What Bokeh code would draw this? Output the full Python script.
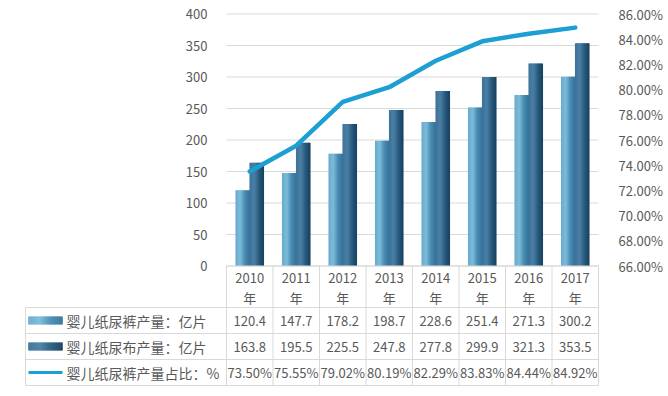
from bokeh.plotting import figure
from bokeh.models import (ColumnDataSource, Range1d, LinearAxis, FixedTicker,
                          PrintfTickFormatter)
from bokeh.transform import dodge
from bokeh.core.properties import value
from bokeh.embed import file_html
from bokeh.resources import INLINE

# ---------------- data ----------------
years = ["2010", "2011", "2012", "2013", "2014", "2015", "2016", "2017"]
diaper_output = [120.4, 147.7, 178.2, 198.7, 228.6, 251.4, 271.3, 300.2]
cloth_output = [163.8, 195.5, 225.5, 247.8, 277.8, 299.9, 321.3, 353.5]
diaper_share = [73.50, 75.55, 79.02, 80.19, 82.29, 83.83, 84.44, 84.92]
left_ticks = [0, 50, 100, 150, 200, 250, 300, 350, 400]
right_ticks = [66, 68, 70, 72, 74, 76, 78, 80, 82, 84, 86]
series_names = ["婴儿纸尿裤产量：亿片", "婴儿纸尿布产量：亿片", "婴儿纸尿裤产量占比：%"]

FONT = value("Noto Sans CJK SC")
TXT = "#595959"
GRID = "#d9d9d9"
LINE_C = "#1c9fd3"
n = len(years)
xs = [i + 0.5 for i in range(n)]

src = ColumnDataSource(dict(
    x=xs, years=years, diaper=diaper_output, cloth=cloth_output, share=diaper_share,
    diaper_txt=[f"{v:.1f}" for v in diaper_output],
    cloth_txt=[f"{v:.1f}" for v in cloth_output],
    share_txt=[f"{v:.2f}%" for v in diaper_share],
    nian=["年"] * n,
))

# ---------------- geometry (page pixels; figure sits at page 0,0) ----------------
W, H = 668, 396
BAND = 46.5          # px per category
PXU = 0.63           # px per value unit (left axis)
X0_PAGE = 226        # page x of category 0 edge
Y0_PAGE = 265.5      # page y of value 0
FL, FR, FT, FB = 24, 600, 4, 388   # frame edges on page


def px(v):
    return (v - X0_PAGE) / BAND


def py(v):
    return (Y0_PAGE - v) / PXU


x_start, x_end = px(FL), px(FR)
y_start, y_end = py(FB), py(FT)

p = figure(width=W, height=H, output_backend="svg", toolbar_location=None,
           x_range=Range1d(x_start, x_end), y_range=Range1d(y_start, y_end),
           x_axis_location=None, y_axis_location="left",
           min_border_left=FL, min_border_right=W - FR,
           min_border_top=FT, min_border_bottom=H - FB,
           outline_line_color=None)
p.extra_y_ranges = {"pct": Range1d(66 + y_start * 0.05, 66 + y_end * 0.05)}
p.grid.visible = False

ya = p.yaxis[0]
ya.fixed_location = 0
ya.ticker = FixedTicker(ticks=left_ticks)
ya.axis_line_color = None
ya.major_tick_line_color = None
ya.minor_tick_line_color = None
ya.major_label_standoff = 13
ya.major_label_text_font = "Noto Sans CJK SC"
ya.major_label_text_font_size = "13px"
ya.major_label_text_color = TXT

ra = LinearAxis(y_range_name="pct", ticker=FixedTicker(ticks=right_ticks),
                formatter=PrintfTickFormatter(format="%.2f%%"))
ra.axis_line_color = None
ra.major_tick_line_color = None
ra.minor_tick_line_color = None
ra.major_label_standoff = 12
ra.major_label_text_font = "Noto Sans CJK SC"
ra.major_label_text_font_size = "13px"
ra.major_label_text_color = TXT
p.add_layout(ra, "right")

# horizontal gridlines over the plot area only
p.segment(x0=[0] * len(left_ticks), y0=left_ticks, x1=[n] * len(left_ticks),
          y1=left_ticks, line_color=GRID, line_width=1)


def lerp(c1, c2, t):
    a = [int(c1[i:i + 2], 16) for i in (1, 3, 5)]
    b = [int(c2[i:i + 2], 16) for i in (1, 3, 5)]
    return "#%02x%02x%02x" % tuple(round(a[k] + (b[k] - a[k]) * t) for k in range(3))


def grad(stops, t):
    # piecewise-linear gradient through several colour stops
    k = min(int(t * (len(stops) - 1)), len(stops) - 2)
    tt = t * (len(stops) - 1) - k
    return lerp(stops[k], stops[k + 1], tt)


BAR_PX = 14
BW = BAR_PX / BAND
STRIP = 1.6 / BAND
light = ("#6aaccf", "#7dbcd9", "#4a8db4", "#37769c")
dark = ("#3f7399", "#4b80a6", "#2a5d80", "#1a4463")
for j in range(BAR_PX):
    t = j / (BAR_PX - 1)
    off = (j + 0.5) / BAND
    p.vbar(x=dodge("x", -BW + off, range=p.x_range), top="diaper",
           bottom=0, width=STRIP, source=src,
           fill_color=grad(light, t), line_color=None)
    p.vbar(x=dodge("x", off, range=p.x_range), top="cloth",
           bottom=0, width=STRIP, source=src,
           fill_color=grad(dark, t), line_color=None)

p.line(x="x", y="share", y_range_name="pct", source=src, line_color=LINE_C,
       line_width=4.5, line_join="round", line_cap="round")

# ---------------- data table ----------------
row_lines = [py(v) for v in (307, 333, 359, 385)]
table_top = 0
p.segment(x0=[0], y0=[table_top], x1=[n], y1=[table_top], line_color=GRID)
p.segment(x0=[px(25)] * 4, y0=row_lines, x1=[n] * 4, y1=row_lines, line_color=GRID)
vx = list(range(n + 1))
p.segment(x0=vx, y0=[table_top] * len(vx), x1=vx, y1=[row_lines[-1]] * len(vx),
          line_color=GRID)
p.segment(x0=[px(25)], y0=[row_lines[0]], x1=[px(25)], y1=[row_lines[-1]],
          line_color=GRID)

p.text(x="x", y=py(277), text="years", source=src, text_align="center",
       text_baseline="middle", text_font=FONT, text_font_size="13px", text_color=TXT)
p.text(x="x", y=py(297), text="nian", source=src, text_align="center",
       text_baseline="middle", text_font=FONT, text_font_size="13px", text_color=TXT)

row_y = [py(320), py(346), py(372)]
for col, yy in zip(("diaper_txt", "cloth_txt", "share_txt"), row_y):
    p.text(x="x", y=yy, text=col, source=src, text_align="center",
           text_baseline="middle", text_font=FONT, text_font_size="13px",
           text_color=TXT)

p.text(x=[px(66)] * 3, y=row_y, text=series_names, text_align="left",
       text_baseline="middle", text_font=FONT, text_font_size="14px", text_color=TXT)

# legend keys
kx0 = px(28)
KEY_PX = 34
for j in range(KEY_PX):
    t = j / (KEY_PX - 1)
    cx = kx0 + (j + 0.5) / BAND
    p.rect(x=[cx], y=[row_y[0]], width=STRIP, height=8,
           height_units="screen", fill_color=grad(light, t), line_color=None)
    p.rect(x=[cx], y=[row_y[1]], width=STRIP, height=8,
           height_units="screen", fill_color=grad(dark, t), line_color=None)
p.segment(x0=[kx0], y0=[row_y[2]], x1=[kx0 + KEY_PX / BAND], y1=[row_y[2]],
          line_color=LINE_C, line_width=3)

open("out.html", "w").write(file_html(p, INLINE))
